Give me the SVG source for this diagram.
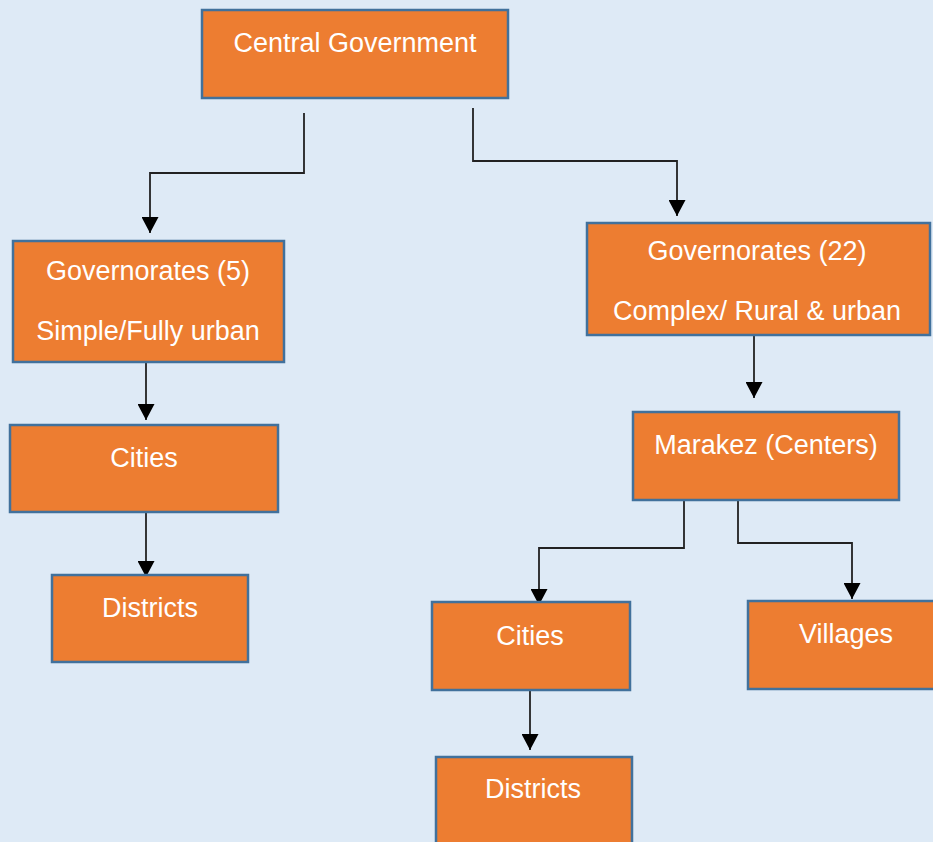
<svg xmlns="http://www.w3.org/2000/svg" width="933" height="842" viewBox="0 0 933 842">
<style>
.box{fill:#ED7D31;stroke:#41719C;stroke-width:2.5}
.t{font-family:"Liberation Sans",Arial,sans-serif;font-size:27px;fill:#FFFFFF;text-anchor:middle}
.c{fill:none;stroke:#222;stroke-width:1.8}
</style>
<defs>
<marker id="ah" markerUnits="userSpaceOnUse" markerWidth="17" markerHeight="17" viewBox="0 0 16 16" refX="15" refY="8" orient="auto">
<path d="M0,0 L15,8 L0,16 Z" fill="#000"/>
</marker>
</defs>
<rect width="933" height="842" fill="#DEEAF6"/>
<g id="connectors">
<path class="c" d="M304,113 V173 H150 V233" marker-end="url(#ah)"/>
<path class="c" d="M473,108 V161 H677 V216" marker-end="url(#ah)"/>
<path class="c" d="M146,362 V420" marker-end="url(#ah)"/>
<path class="c" d="M146,508 V577" marker-end="url(#ah)"/>
<path class="c" d="M754,327 V398" marker-end="url(#ah)"/>
<path class="c" d="M684,489 V548 H539 V605" marker-end="url(#ah)"/>
<path class="c" d="M738,487 V543 H852 V599" marker-end="url(#ah)"/>
<path class="c" d="M530,680 V750" marker-end="url(#ah)"/>
</g>
<g id="central">
<rect class="box" x="202" y="10" width="306" height="88"/>
<text class="t" x="355" y="52">Central Government</text>
</g>
<g id="gov5">
<rect class="box" x="13" y="241" width="271" height="121"/>
<text class="t" x="148" y="280">Governorates (5)</text>
<text class="t" x="148" y="340">Simple/Fully urban</text>
</g>
<g id="cities-left">
<rect class="box" x="10" y="425" width="268" height="87"/>
<text class="t" x="144" y="467">Cities</text>
</g>
<g id="districts-left">
<rect class="box" x="52" y="575" width="196" height="87"/>
<text class="t" x="150" y="617">Districts</text>
</g>
<g id="gov22">
<rect class="box" x="587" y="223" width="343" height="112"/>
<text class="t" x="757" y="260">Governorates (22)</text>
<text class="t" x="757" y="320">Complex/ Rural &amp; urban</text>
</g>
<g id="marakez">
<rect class="box" x="633" y="412" width="266" height="88"/>
<text class="t" x="766" y="454">Marakez (Centers)</text>
</g>
<g id="cities-right">
<rect class="box" x="432" y="602" width="198" height="88"/>
<text class="t" x="530" y="645">Cities</text>
</g>
<g id="villages">
<rect class="box" x="748" y="601" width="190" height="88"/>
<text class="t" x="846" y="643">Villages</text>
</g>
<g id="districts-right">
<rect class="box" x="436" y="757" width="196" height="90"/>
<text class="t" x="533" y="798">Districts</text>
</g>
</svg>
